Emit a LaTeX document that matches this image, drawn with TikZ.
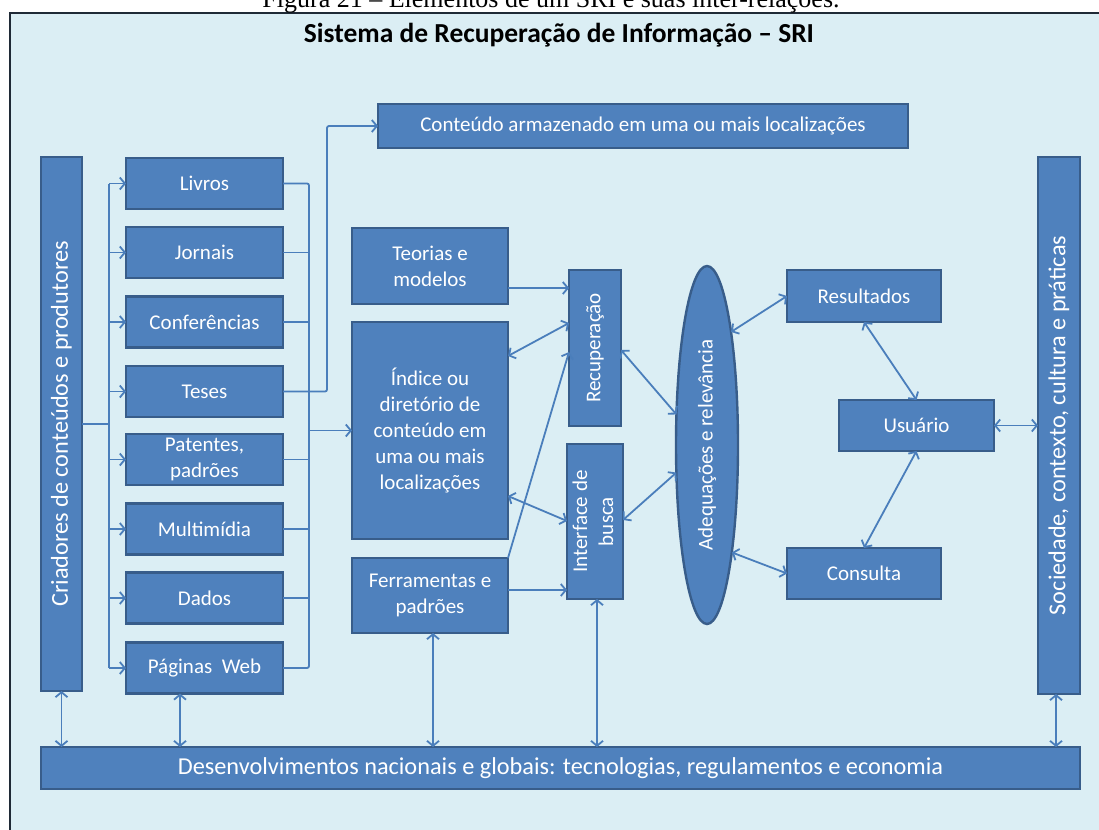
\documentclass[tikz,border=0pt]{standalone}
\usepackage{fontspec}
\setmainfont{Carlito}
\newfontfamily\capfont{Liberation Serif}
\usetikzlibrary{arrows.meta,shapes.geometric}
\definecolor{bgblue}{HTML}{DBEEF4}
\definecolor{boxfill}{HTML}{4F81BD}
\definecolor{boxline}{HTML}{385D8A}
\definecolor{linkblue}{HTML}{4A7EBB}
\definecolor{framegray}{HTML}{1F2A36}
\begin{document}
\begin{tikzpicture}[x=1pt,y=-1pt,
  box/.style={draw=boxline, fill=boxfill, line width=2.4pt, text=white,
    font=\fontsize{21}{26}\selectfont, align=center, inner sep=2pt, outer sep=0pt},
  bigtext/.style={font=\fontsize{24.3}{28}\selectfont},
  plain/.style={draw=linkblue, line width=1.8pt, rounded corners=2pt},
  link/.style={plain, -{Straight Barb[length=5pt,width=12pt]}},
  both/.style={plain, {Straight Barb[length=5pt,width=12pt]}-{Straight Barb[length=5pt,width=12pt]}}
]
\useasboundingbox (0,0) rectangle (1099,829);
\clip (0,0) rectangle (1099,829);
\fill[white] (0,0) rectangle (1099,829);
\draw[fill=bgblue, draw=framegray, line width=1.8pt] (10,13) rectangle (1140,870);

% caption and title
\node[font=\capfont\fontsize{26}{30}\selectfont, anchor=base] (cap) at (551,8)
  {Figura 21 – Elementos de um SRI e suas inter-relações.};
\node[font=\bfseries\fontsize{27.5}{32}\selectfont, anchor=base] (ttl) at (559,43)
  {Sistema de Recuperação de Informação – SRI};

% outer frame boxes
\node[box, minimum width=530pt, minimum height=44pt] (cnt) at (643,126)
  {Conteúdo armazenado em uma ou mais localizações};
\node[box, bigtext, minimum width=41pt, minimum height=534pt] (cri) at (61.5,424)
  {\rotatebox{90}{Criadores de conteúdos e produtores}};
\node[box, bigtext, minimum width=42pt, minimum height=537pt] (soc) at (1059,425.5)
  {\rotatebox{90}{Sociedade,\ contexto, cultura e práticas}};
\node[box, bigtext, minimum width=1039pt, minimum height=42pt] (dev) at (560.5,768)
  {Desenvolvimentos nacionais e globais: tecnologias, regulamentos e economia};

% content types
\node[box, minimum width=157pt, minimum height=51pt] (liv) at (204.5,183.5) {Livros};
\node[box, minimum width=157pt, minimum height=51pt] (jor) at (204.5,252.5) {Jornais};
\node[box, minimum width=157pt, minimum height=51pt] (cnf) at (204.5,322) {Conferências};
\node[box, minimum width=157pt, minimum height=51pt] (tes) at (204.5,391.5) {Teses};
\node[box, minimum width=157pt, minimum height=51pt] (pat) at (204.5,459.5) {Patentes,\\padrões};
\node[box, minimum width=157pt, minimum height=51pt] (mul) at (204.5,529) {Multimídia};
\node[box, minimum width=157pt, minimum height=51pt] (dad) at (204.5,598) {Dados};
\node[box, minimum width=157pt, minimum height=51pt] (pag) at (204.5,668) {Páginas\ \ Web};

% middle column
\node[box, minimum width=156pt, minimum height=76pt] (teo) at (430,266) {Teorias e\\modelos};
\node[box, minimum width=156pt, minimum height=217pt] (ind) at (430,430.5)
  {Índice ou\\diretório de\\conteúdo em\\uma ou mais\\localizações};
\node[box, minimum width=156pt, minimum height=75pt] (fer) at (430,595.5) {Ferramentas e\\padrões};

\node[box, minimum width=52pt, minimum height=156pt] (rec) at (595,348)
  {\rotatebox{90}{Recuperação}};
\node[box, minimum width=52pt, minimum height=155pt] (int) at (595,521.5)
  {\rotatebox{90}{\begin{tabular}{@{}c@{}}Interface de\\busca\end{tabular}}};

\node[box, ellipse, minimum width=62pt, minimum height=358pt] (adq) at (707,445)
  {\rotatebox{90}{Adequações e relevância}};

% user side
\node[box, minimum width=154pt, minimum height=52pt] (res) at (864,296) {Resultados};
\node[box, minimum width=155pt, minimum height=51pt] (usr) at (916.5,425.5) {Usuário};
\node[box, minimum width=154pt, minimum height=51pt] (con) at (864,573.5) {Consulta};

% distribution from creators to content types
\coordinate (dj) at (109,424);
\draw[plain] (cri.east) -- (dj);
\draw[plain] (dj |- liv.west) -- (dj |- pag.west);
\foreach \n in {liv,jor,cnf,tes,pat,mul,dad,pag}
  \draw[link] (dj |- \n.west) -- (\n.west);

% collection towards the index
\coordinate (cj) at (309,430.5);
\foreach \n in {liv,jor,cnf,pat,mul,dad}
  \draw[plain] (\n.east) -- (cj |- \n.east);
\draw[plain] (liv.east) -| (cj) |- (pag.east);
\draw[link] (cj) -- (ind.west);

% theses towards stored content
\coordinate (tj) at (327,391.5);
\draw[link] (tes.east) -- (tj) |- (cnt.west);

% middle relations
\draw[link] (teo.east |- 0,288) -- (rec.west |- 0,288);
\draw[both] (ind.east |- 0,356) -- (rec.west |- 0,323);
\draw[link] (fer.north east) -- (rec.west |- 0,352);
\draw[both] (ind.east |- 0,496) -- (int.west |- 0,521);
\draw[link] (fer.east |- 0,590) -- (int.west |- 0,590);
\draw[both] (rec.east |- 0,350) -- (adq.135);
\draw[both] (int.east |- 0,520) -- (adq.222);
\draw[both] (adq.78) -- (res.west);
\draw[both] (adq.283) -- (con.west);
\draw[both] (res.south) -- (usr.north);
\draw[both] (usr.south) -- (con.north);
\draw[both] (usr.east) -- (usr.east -| soc.west);

% links to national and global developments
\draw[both] (cri.south) -- (cri.south |- dev.north);
\draw[both] ([xshift=-24.5pt]pag.south) -- ([xshift=-24.5pt]pag.south |- dev.north);
\draw[both] ([xshift=3pt]fer.south) -- ([xshift=3pt]fer.south |- dev.north);
\draw[both] ([xshift=2pt]int.south) -- ([xshift=2pt]int.south |- dev.north);
\draw[both] ([xshift=-3pt]soc.south) -- ([xshift=-3pt]soc.south |- dev.north);
\end{tikzpicture}
\end{document}
